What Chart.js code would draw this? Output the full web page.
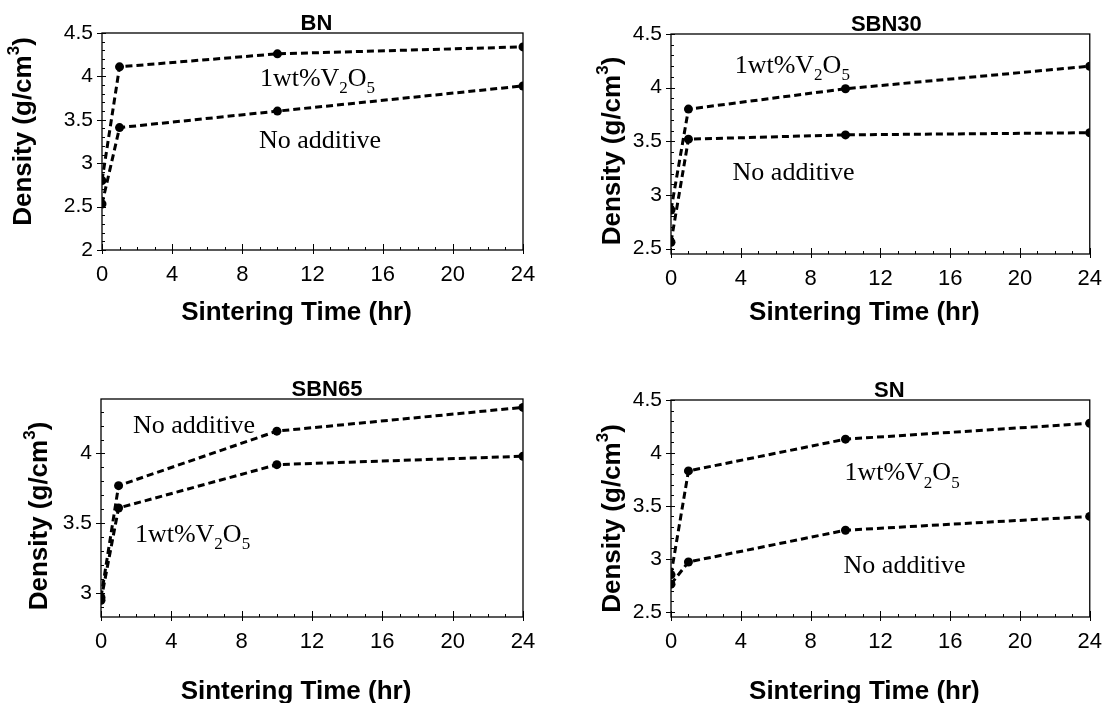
<!DOCTYPE html>
<html>
<head>
<meta charset="utf-8">
<script src="https://cdn.jsdelivr.net/npm/chart.js@4.4.0/dist/chart.umd.min.js"></script>
<style>
    html, body { margin: 0; padding: 0; background: #fff; }
    #quadro { position: relative; width: 1106px; height: 703px; overflow: hidden; }
    .painel { position: absolute; }
</style>
</head>
<body>
<div id="quadro">
    <canvas class="painel" id="grafico-bn" width="553" height="351" style="left:0;top:0"></canvas>
    <canvas class="painel" id="grafico-sbn30" width="553" height="351" style="left:553px;top:0"></canvas>
    <canvas class="painel" id="grafico-sbn65" width="553" height="352" style="left:0;top:351px"></canvas>
    <canvas class="painel" id="grafico-sn" width="553" height="352" style="left:553px;top:351px"></canvas>
</div>
<script>
// Tempos de sinterização (hr)
const tempos = [0, 1, 10, 24];

// Densidades (g/cm3)
const bnComV2O5 = [2.8, 4.11, 4.26, 4.34];
const bnSemAditivo = [2.53, 3.41, 3.6, 3.89];
const sbn30ComV2O5 = [2.86, 3.8, 3.99, 4.2];
const sbn30SemAditivo = [2.56, 3.52, 3.56, 3.58];
const sbn65ComV2O5 = [2.95, 3.61, 3.92, 3.98];
const sbn65SemAditivo = [2.97, 3.77, 4.16, 4.33];
const snComV2O5 = [2.85, 3.83, 4.13, 4.28];
const snSemAditivo = [2.76, 2.97, 3.27, 3.40];

// Rótulos dos eixos
const ticksX = [0, 4, 8, 12, 16, 20, 24];
const ticksYBn = [2, 2.5, 3, 3.5, 4, 4.5];
const ticksYSbn30 = [2.5, 3, 3.5, 4, 4.5];
const ticksYSbn65 = [3, 3.5, 4];
const ticksYSn = [2.5, 3, 3.5, 4, 4.5];

const rotuloV2O5 = [["1wt%V", 0], ["2", 1], ["O", 0], ["5", 1]];
const rotuloSem = [["No additive", 0]];

// Configuração de cada painel (posições dos textos em coordenadas de dados)
const paineis = [
    { id: "grafico-bn", titulo: "BN", com: bnComV2O5, sem: bnSemAditivo, yMin: 2, yMax: 4.5, yTicks: ticksYBn,
      area: { left: 102, top: 33, right: 523, bottom: 250 },
      posCom: [9.0, 3.89], posSem: [8.95, 3.18], yTituloX: 24, yTituloDy: -10, xTituloY: 320, tituloDx: 4 },
    { id: "grafico-sbn30", titulo: "SBN30", com: sbn30ComV2O5, sem: sbn30SemAditivo, yMin: 2.45, yMax: 4.5, yTicks: ticksYSbn30,
      area: { left: 118, top: 34, right: 539, bottom: 254 },
      posCom: [3.65, 4.14], posSem: [3.53, 3.14], yTituloX: 60, yTituloDy: 7, xTituloY: 320, tituloDx: 6 },
    { id: "grafico-sbn65", titulo: "SBN65", com: sbn65ComV2O5, sem: sbn65SemAditivo, yMin: 2.83, yMax: 4.39, yTicks: ticksYSbn65,
      area: { left: 101, top: 48, right: 523, bottom: 266 },
      posCom: [1.93, 3.37], posSem: [1.82, 4.15], yTituloX: 40, yTituloDy: 8, xTituloY: 348, tituloDx: 15 },
    { id: "grafico-sn", titulo: "SN", com: snComV2O5, sem: snSemAditivo, yMin: 2.45, yMax: 4.5, yTicks: ticksYSn,
      area: { left: 118, top: 49, right: 538, bottom: 266 },
      posCom: [9.94, 3.74], posSem: [9.89, 2.87], yTituloX: 60, yTituloDy: 10, xTituloY: 348, tituloDx: 9 }
];

// Desenha texto com partes em subscrito (1) ou sobrescrito (-1)
function desenhaPartes(ctx, partes, x, y, tamanho, familia, peso) {
    let cx = x;
    partes.forEach(([txt, modo]) => {
        const t = modo === 0 ? tamanho : Math.round(tamanho * 0.65);
        ctx.font = `${peso} ${t}px ${familia}`;
        const dy = modo === 1 ? tamanho * 0.28 : modo === -1 ? -tamanho * 0.38 : 0;
        ctx.fillText(txt, cx, y + dy);
        cx += ctx.measureText(txt).width;
    });
    return cx - x;
}

function larguraPartes(ctx, partes, tamanho, familia, peso) {
    let w = 0;
    partes.forEach(([txt, modo]) => {
        const t = modo === 0 ? tamanho : Math.round(tamanho * 0.65);
        ctx.font = `${peso} ${t}px ${familia}`;
        w += ctx.measureText(txt).width;
    });
    return w;
}

const decoracaoPlugin = {
    id: "decoracao",
    afterDraw(chart, args, opts) {
        const { ctx, chartArea: a, scales: { x, y } } = chart;
        const p = opts.painel;
        ctx.save();
        ctx.strokeStyle = "#000";
        ctx.fillStyle = "#000";
        ctx.lineWidth = 1.3;
        ctx.strokeRect(a.left, a.top, a.right - a.left, a.bottom - a.top);

        // Marcas do eixo X (maiores a cada 4 h, menores a cada 1 h)
        ctx.lineWidth = 1;
        for (let v = 0; v <= 24; v++) {
            const px = Math.round(x.getPixelForValue(v)) + 0.5;
            const maior = ticksX.includes(v);
            ctx.beginPath();
            ctx.moveTo(px, a.bottom + (maior ? 4 : 0));
            ctx.lineTo(px, a.bottom - (maior ? 6 : 3));
            ctx.stroke();
        }
        // Marcas do eixo Y (a cada 0.1)
        for (let k = Math.ceil(p.yMin * 10 - 1e-6); k <= Math.floor(p.yMax * 10 + 1e-6); k++) {
            const v = k / 10;
            const py = Math.round(y.getPixelForValue(v)) + 0.5;
            const maior = p.yTicks.some(t => Math.abs(t - v) < 1e-6);
            ctx.beginPath();
            ctx.moveTo(a.left - (maior ? 5 : 0), py);
            ctx.lineTo(a.left + (maior ? 4 : 3), py);
            ctx.stroke();
        }

        // Título do painel
        const cx = (a.left + a.right) / 2;
        ctx.textAlign = "center";
        ctx.textBaseline = "alphabetic";
        ctx.font = "bold 22px 'Liberation Sans', Arial, sans-serif";
        ctx.fillText(p.titulo, cx + p.tituloDx, a.top - 3);

        // Título do eixo X
        ctx.font = "bold 26px 'Liberation Sans', Arial, sans-serif";
        ctx.fillText("Sintering Time (hr)", cx - 16, p.xTituloY);

        // Título do eixo Y (rotacionado)
        const partesY = [["Density (g/cm", 0], ["3", -1], [")", 0]];
        const fam = "'Liberation Sans', Arial, sans-serif";
        const wy = larguraPartes(ctx, partesY, 26, fam, "bold");
        ctx.save();
        ctx.translate(p.yTituloX, (a.top + a.bottom) / 2 + p.yTituloDy);
        ctx.rotate(-Math.PI / 2);
        ctx.textAlign = "left";
        ctx.textBaseline = "middle";
        desenhaPartes(ctx, partesY, -wy / 2, 0, 26, fam, "bold");
        ctx.restore();

        // Rótulos das séries
        ctx.textAlign = "left";
        ctx.textBaseline = "alphabetic";
        const serif = "'Liberation Serif', 'Times New Roman', serif";
        desenhaPartes(ctx, rotuloV2O5, x.getPixelForValue(p.posCom[0]), y.getPixelForValue(p.posCom[1]), 26, serif, "normal");
        desenhaPartes(ctx, rotuloSem, x.getPixelForValue(p.posSem[0]), y.getPixelForValue(p.posSem[1]), 26, serif, "normal");
        ctx.restore();
    }
};

function serie(valores) {
    return {
        data: tempos.map((t, i) => ({ x: t, y: valores[i] })),
        borderColor: "#000",
        backgroundColor: "#000",
        borderWidth: 3,
        borderDash: [7, 4],
        pointRadius: 4.5,
        pointBackgroundColor: "#000",
        pointBorderWidth: 0,
        tension: 0
    };
}

function criaPainel(p) {
    const canvas = document.getElementById(p.id);
    const W = canvas.width, H = canvas.height;
    new Chart(canvas.getContext("2d"), {
        type: "line",
        data: { datasets: [serie(p.com), serie(p.sem)] },
        plugins: [decoracaoPlugin],
        options: {
            responsive: false,
            animation: false,
            devicePixelRatio: 1,
            layout: { padding: { left: 0, top: p.area.top, right: W - p.area.right, bottom: 0 } },
            plugins: {
                legend: { display: false },
                tooltip: { enabled: false },
                decoracao: { painel: p }
            },
            scales: {
                x: {
                    type: "linear",
                    min: 0,
                    max: 24,
                    grid: { display: false },
                    border: { display: false },
                    afterBuildTicks: s => { s.ticks = ticksX.map(v => ({ value: v })); },
                    afterFit: s => { s.height = H - p.area.bottom; },
                    ticks: {
                        color: "#000",
                        padding: 4,
                        maxRotation: 0,
                        font: { family: "'Liberation Sans', Arial, sans-serif", size: 22 },
                        callback: v => String(v)
                    }
                },
                y: {
                    type: "linear",
                    min: p.yMin,
                    max: p.yMax,
                    grid: { display: false },
                    border: { display: false },
                    afterBuildTicks: s => { s.ticks = p.yTicks.map(v => ({ value: v })); },
                    afterFit: s => { s.width = p.area.left; },
                    ticks: {
                        color: "#000",
                        padding: 1,
                        font: { family: "'Liberation Sans', Arial, sans-serif", size: 21 },
                        callback: v => String(v)
                    }
                }
            }
        }
    });
}

paineis.forEach(criaPainel);
</script>
</body>
</html>
